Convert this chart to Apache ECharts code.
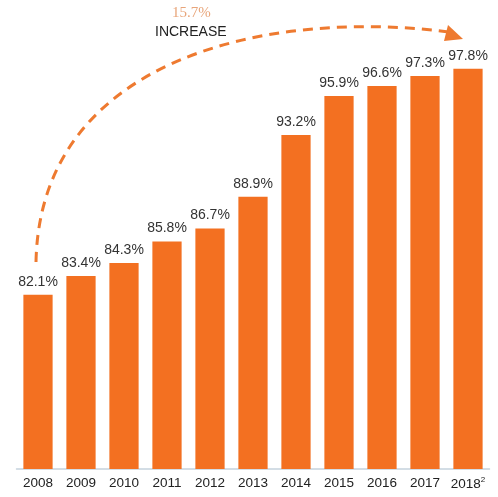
<!DOCTYPE html>
<html>
<head>
<meta charset="utf-8">
<style>html,body{margin:0;padding:0;background:#fff;}#c{width:498px;height:497px;}</style>
<script src="https://cdn.jsdelivr.net/npm/echarts@6/dist/echarts.min.js"></script>
</head>
<body>
<div id="c"></div>
<script>
const categories = ['2008','2009','2010','2011','2012','2013','2014','2015','2016','2017','2018'];
const values = [82.1, 83.4, 84.3, 85.8, 86.7, 88.9, 93.2, 95.9, 96.6, 97.3, 97.8];
const orange = '#F37021';
const chart = echarts.init(document.getElementById('c'));
chart.setOption({
  animation: false,
  grid: {left: 16.5, right: 8.5, top: 37, bottom: 28},
  xAxis: {
    type: 'category', data: categories,
    axisLine: {lineStyle: {color: '#C5D2DD', width: 1.5}},
    axisTick: {show: false},
    axisLabel: {
      interval: 0,
      color: '#222', fontSize: 13.5, fontFamily: 'Liberation Sans', margin: 7,
      formatter: v => v === '2018' ? '2018{sup|2}' : v,
      rich: {sup: {fontSize: 8, verticalAlign: 'top', padding: [0,0,8,0], color: '#222', fontFamily: 'Liberation Sans'}}
    }
  },
  yAxis: {type: 'value', min: 70, max: 100, show: false, splitLine: {show: false}},
  series: [{
    type: 'bar', data: values, barWidth: '68%',
    itemStyle: {color: orange},
    label: {show: true, position: 'top', distance: 6, color: '#333', fontSize: 14, fontFamily: 'Liberation Sans', formatter: p => p.value.toFixed(1) + '%'}
  }],
  graphic: [
    {type: 'bezierCurve', shape: {x1: 36, y1: 262, cpx1: 40, cpy1: 62, cpx2: 260, cpy2: 8, x2: 449, y2: 32},
     style: {stroke: '#EE7A30', lineWidth: 3, lineDash: [10, 7], fill: null}},
    {type: 'polygon', shape: {points: [[448, 25], [463, 39], [444, 41]]}, style: {fill: '#EE7A30'}},
    {type: 'text', left: 172, top: 6, style: {text: '15.7%', fill: '#E8A57A', font: '15px "Liberation Serif"'}},
    {type: 'text', left: 155, top: 25, style: {text: 'INCREASE', fill: '#222', font: '14px "Liberation Sans"'}}
  ]
});
</script>
</body>
</html>
